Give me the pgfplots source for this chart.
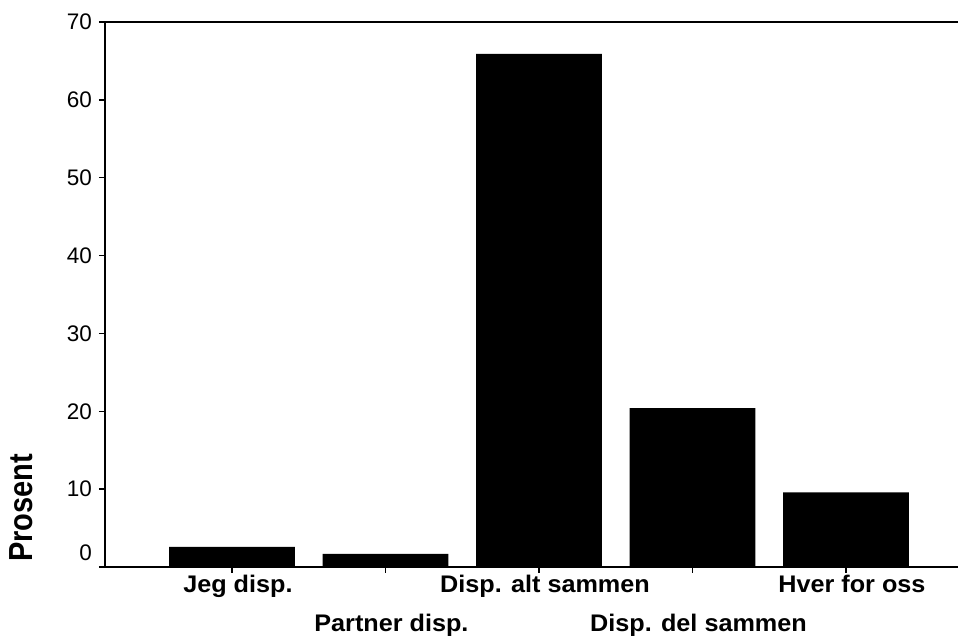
\documentclass[border=0pt]{standalone}
\usepackage{fontspec}
\setmainfont{Liberation Sans}
\usepackage{graphicx}
\usepackage{pgfplots}
\pgfplotsset{compat=1.18}
\newcommand{\hs}[1]{\scalebox{1.05}[1]{#1}}
\begin{document}
\begin{tikzpicture}
\useasboundingbox (0,0) rectangle (960pt,644pt);
\begin{axis}[
  at={(105pt,77pt)}, anchor=south west,
  scale only axis, width=853pt, height=545pt,
  xmin=-0.827, xmax=4.73, ymin=0, ymax=70,
  axis x line=box, axis y line=left,
  axis line style={-, line width=1.6pt, black},
  tick align=outside, xtick pos=left, ytick pos=left,
  major tick length=6pt,
  tick style={line width=1.3pt, black},
  ytick={0,10,20,30,40,50,60,70},
  yticklabels={\raisebox{28pt}{0},10,20,30,40,50,60,70},
  yticklabel style={font=\fontsize{22.5}{26}\selectfont, inner sep=3pt, xshift=-4pt},
  xtick={0,2,4},
  xticklabels={\hs{Jeg disp.},\hs{Disp. alt sammen},\hs{Hver for oss}},
  extra x ticks={1,3},
  extra x tick labels={\hs{Partner disp.},\hs{Disp. del sammen}},
  extra x tick style={xticklabel style={yshift=-39pt}},
  xticklabel style={font=\bfseries\fontsize{24}{28}\selectfont, inner sep=2pt, xshift=6pt},
  ylabel={\scalebox{1}[1.15]{Prosent}},
  ylabel style={font=\bfseries\fontsize{29}{33}\selectfont, inner sep=0pt, anchor=south west, at={(axis description cs:-0.0844,0.009)}},
]
\addplot[ybar, fill=black, draw=none, bar width=0.82, bar shift=0pt]
  coordinates {(0,2.6) (1,1.7) (2,65.9) (3,20.4) (4,9.6)};
\end{axis}
\end{tikzpicture}
\end{document}
